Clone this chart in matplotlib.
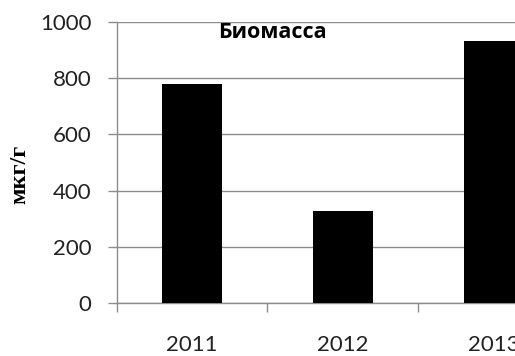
import matplotlib
matplotlib.use("Agg")
import matplotlib.pyplot as plt
from matplotlib.ticker import FixedLocator

years = ["2011", "2012", "2013"]
biomass = [780, 327, 930]
yticks = [0, 200, 400, 600, 800, 1000]
title = "Биомасса"
ylabel = "мкг/г"

fig = plt.figure(figsize=(5.15, 3.56), dpi=100)
W, H = 515, 356
left, right, top, bottom = 116.7, 568.8, 21.7, 303.3
ax = fig.add_axes([left / W, 1 - bottom / H, (right - left) / W, (bottom - top) / H])

pos = list(range(1, len(years) + 1))
ax.bar(pos, biomass, width=0.395, color="black", zorder=3)

grid_c = "#8c8c8c"
ax.set_xlim(0.5, len(years) + 0.5)
ax.set_ylim(0, 1000)
ax.set_yticks(yticks)
ax.yaxis.grid(True, color=grid_c, linewidth=1.0, zorder=0)
ax.set_xticks(pos)
ax.set_xticklabels(years)
ax.xaxis.set_minor_locator(FixedLocator([p + 0.5 for p in range(0, len(years) + 1)]))
ax.tick_params(axis="x", which="major", length=0, pad=23)
ax.tick_params(axis="x", which="minor", length=6.5, width=1.0, color=grid_c, direction="out")
ax.tick_params(axis="y", length=6.5, width=1.0, color=grid_c, direction="out", pad=11.5)

for s in ["top", "right"]:
    ax.spines[s].set_visible(False)
for s in ["left", "bottom"]:
    ax.spines[s].set_color(grid_c)
    ax.spines[s].set_linewidth(1.0)

tick_font = ["Lato", "Open Sans", "DejaVu Sans"]
for lab in ax.get_xticklabels() + ax.get_yticklabels():
    lab.set_family(tick_font)
    lab.set_fontsize(16)
    lab.set_color("#222222")

fig.text(272 / W, 1 - 33 / H, title, ha="center", va="center",
         family=["Open Sans", "DejaVu Sans"], fontweight="bold", fontsize=15.5)
fig.text(20 / W, 1 - 174 / H, ylabel, ha="center", va="center", rotation=90,
         family=["Liberation Serif", "DejaVu Serif"], fontweight="bold", fontsize=17.5)

fig.savefig("out.png", dpi=100)
